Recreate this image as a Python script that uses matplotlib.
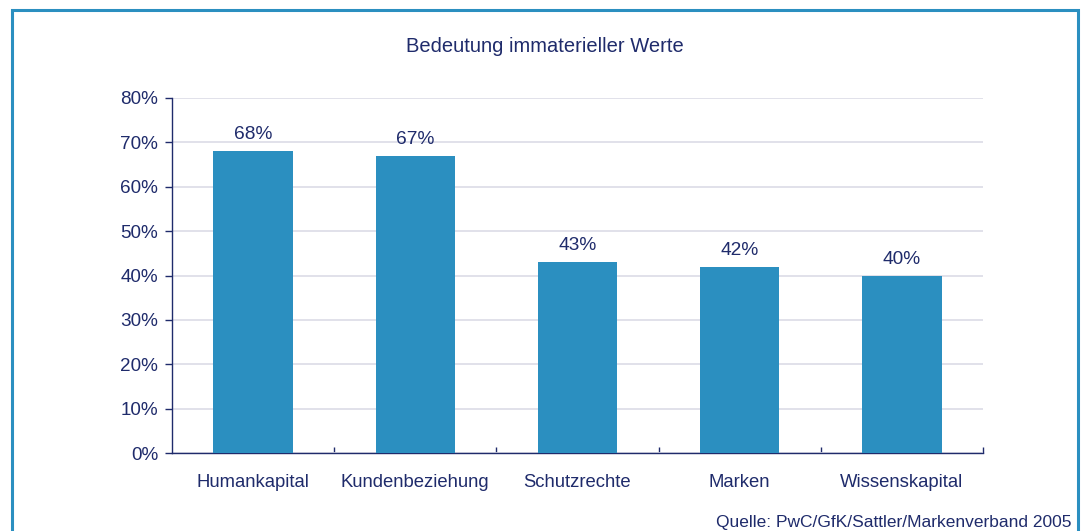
import matplotlib.pyplot as plt
from matplotlib.patches import Rectangle
from matplotlib.ticker import MultipleLocator, FixedLocator, PercentFormatter

# Daten
kategorien = ['Humankapital', 'Kundenbeziehung', 'Schutzrechte', 'Marken', 'Wissenskapital']
werte = [68, 67, 43, 42, 40]

titel = 'Bedeutung immaterieller Werte'
quelle = 'Quelle: PwC/GfK/Sattler/Markenverband 2005'

blau = '#2B8FC0'
text_farbe = '#1F2B6B'
gitter_farbe = '#DEDEE8'

plt.rcParams['font.family'] = ['Liberation Sans', 'DejaVu Sans']

fig = plt.figure(figsize=(10.86, 5.31), dpi=100)
ax = fig.add_axes([172 / 1086, 1 - 453 / 531, 811 / 1086, 355 / 531])

# Rahmen um die Grafik
fig.patches.append(Rectangle((12 / 1086, -0.05), 1066 / 1086, 1.05 - 10 / 531,
                             transform=fig.transFigure, fill=False,
                             edgecolor=blau, linewidth=2.2))

x = range(len(kategorien))
bars = ax.bar(x, werte, width=0.49, color=blau, zorder=3)
for b, w in zip(bars, werte):
    ax.text(b.get_x() + b.get_width() / 2, w + 1.8, f'{w}%', ha='center', va='bottom',
            fontsize=13.8, color=text_farbe)

ax.set_xlim(-0.5, len(kategorien) - 0.5)
ax.set_ylim(0, 80)
ax.yaxis.set_major_locator(MultipleLocator(10))
ax.yaxis.set_major_formatter(PercentFormatter(decimals=0))
ax.grid(axis='y', color=gitter_farbe, linewidth=1.3, zorder=0)

ax.set_xticks(list(x))
ax.set_xticklabels(kategorien)
ax.xaxis.set_minor_locator(FixedLocator([i + 0.5 for i in range(len(kategorien))]))
ax.tick_params(axis='x', which='major', length=0, pad=15, labelsize=13.3, labelcolor=text_farbe)
ax.tick_params(axis='x', which='minor', direction='in', length=4, color=text_farbe, width=1)
ax.tick_params(axis='y', direction='out', length=5, color=text_farbe, width=1,
               labelsize=13.6, labelcolor=text_farbe, pad=5)

for s in ['top', 'right']:
    ax.spines[s].set_visible(False)
for s in ['left', 'bottom']:
    ax.spines[s].set_color(text_farbe)
    ax.spines[s].set_linewidth(1)

fig.text(545 / 1086, 1 - 47 / 531, titel, ha='center', va='center', fontsize=14.5, color=text_farbe)
fig.text(1071 / 1086, 1 - 522 / 531, quelle, ha='right', va='center', fontsize=12.5, color=text_farbe)

fig.savefig('out.png', dpi=100)
